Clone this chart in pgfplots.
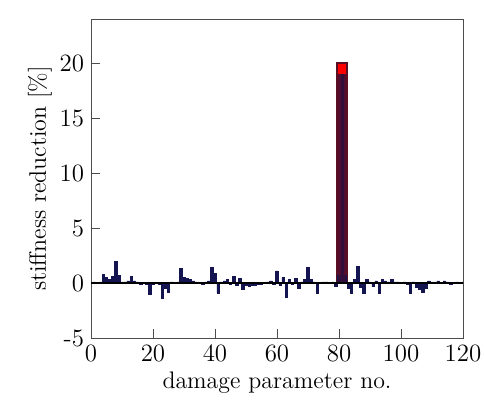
\documentclass[border=0pt]{standalone}
\usepackage{pgfplots}
\pgfplotsset{compat=1.18}
\usepackage{pgfplotstable}

\definecolor{estnavy}{RGB}{20,20,80}
\definecolor{truedark}{RGB}{90,15,35}
\definecolor{overlap}{RGB}{55,15,55}

% estimated stiffness reduction per damage parameter
\pgfplotstableread{
id  val
1   0.1
2   0.05
3   0.1
4   0.8
5   0.5
6   0.3
7   0.6
8   2.0
9   0.7
10  0.1
11  0.1
12  0.2
13  0.6
14  0.2
15  0.1
16  -0.1
17  0.0
18  -0.1
19  -1.0
20  -0.1
21  0.0
22  -0.1
23  -1.4
24  -0.5
25  -0.8
26  0.1
27  0.0
28  0.1
29  1.3
30  0.5
31  0.4
32  0.3
33  0.2
34  0.1
35  0.05
36  -0.1
37  0.1
38  0.2
39  1.4
40  0.9
41  -0.9
42  0.1
43  0.2
44  0.3
45  -0.1
46  0.6
47  -0.2
48  0.4
49  -0.6
50  -0.2
51  -0.3
52  -0.2
53  -0.2
54  -0.1
55  -0.1
56  0.05
57  0.1
58  0.2
59  -0.1
60  1.1
61  -0.2
62  0.5
63  -1.3
64  0.3
65  -0.1
66  0.4
67  -0.5
68  0.1
69  0.3
70  1.4
71  0.3
72  0.1
73  -0.9
74  0.05
75  0.1
76  0.1
77  0.0
78  0.1
79  -0.3
80  0.7
81  19.0
82  0.7
83  -0.5
84  -0.9
85  0.3
86  1.5
87  -0.4
88  -0.9
89  0.3
90  0.1
91  -0.3
92  0.2
93  -0.9
94  0.3
95  0.2
96  0.1
97  0.3
98  0.1
99  0.1
100 0.0
101 0.1
102 -0.1
103 -0.9
104 0.1
105 -0.4
106 -0.6
107 -0.8
108 -0.5
109 0.2
110 0.1
111 0.1
112 0.2
113 0.0
114 0.2
115 0.1
116 -0.1
117 0.05
118 0.1
119 0.0
120 0.1
}\estimated

\begin{document}
\begin{tikzpicture}
\useasboundingbox (-45.5bp,-31bp) rectangle (196.5bp,169bp);
\begin{axis}[
    scale only axis,
    width=186bp, height=159.5bp,
    xmin=0, xmax=120,
    ymin=-5, ymax=24,
    xtick={0,20,...,120},
    ytick={-5,0,5,10,15,20},
    /pgf/number format/assume math mode=true,
    tick align=inside,
    xtick pos=left, ytick pos=left,
    tick style={black!70, thin},
    axis line style={black!70},
    every tick label/.append style={font=\fontsize{12.5}{14}\selectfont},
    label style={font=\fontsize{12}{14}\selectfont},
    xlabel={damage parameter no.},
    ylabel={stiffness reduction [\%]},
    xlabel style={yshift=2pt},
    ylabel style={yshift=-3pt},
]
% true damage
\addplot[ybar, bar width=3.1, fill=red, draw=truedark, line width=1pt]
    coordinates {(81,20)};
% estimated values
\addplot[ybar, bar width=0.8, fill=estnavy, draw=estnavy, line width=0.3pt]
    table[x=id, y=val] {\estimated};
\addplot[ybar, bar width=2.4, fill=overlap, draw=none, fill opacity=0.85]
    coordinates {(81,19)};
% zero line
\addplot[black, line width=0.6pt] coordinates {(0,0) (120,0)};
\end{axis}
\end{tikzpicture}
\end{document}
